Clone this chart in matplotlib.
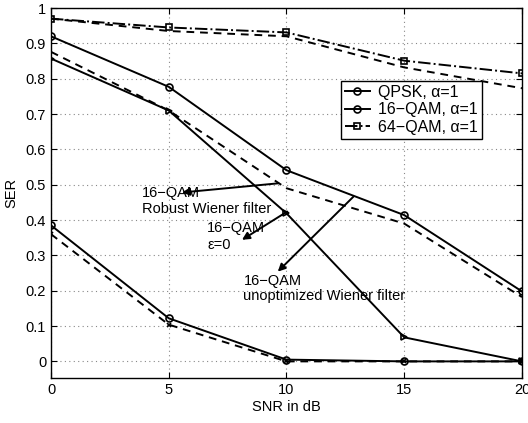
import matplotlib
matplotlib.use('Agg')
import matplotlib.pyplot as plt

plt.rcParams['font.family'] = ['Liberation Sans', 'DejaVu Sans']

snr = [0, 5, 10, 15, 20]

# SER curves
qpsk_robust = [0.385, 0.122, 0.005, 0.0, 0.0]
qpsk_unopt = [0.36, 0.104, 0.0, 0.0, 0.0]
qam16_robust = [0.92, 0.777, 0.541, 0.414, 0.198]
qam16_unopt = [0.876, 0.71, 0.49, 0.39, 0.182]
qam16_eps0 = [0.857, 0.71, 0.419, 0.068, 0.0]
qam64_robust = [0.97, 0.945, 0.931, 0.851, 0.815]
qam64_unopt = [0.97, 0.935, 0.92, 0.832, 0.773]

yticks = [0, 0.1, 0.2, 0.3, 0.4, 0.5, 0.6, 0.7, 0.8, 0.9, 1]
ytick_labels = ['0', '0.1', '0.2', '0.3', '0.4', '0.5', '0.6', '0.7', '0.8', '0.9', '1']

fig = plt.figure(figsize=(5.28, 4.23), dpi=100)
ax = fig.add_axes([0.0966, 0.1064, 0.892, 0.8746])

lw = 1.4
ax.plot(snr, qpsk_robust, '-', color='k', lw=lw, marker='o', ms=5, mfc='none', mew=1.2,
        label='QPSK, \u03b1=1')
ax.plot(snr, qam16_robust, '-', color='k', lw=lw, marker='o', ms=5, mfc='none', mew=1.2,
        label='16\u2212QAM, \u03b1=1')
ax.plot(snr, qam64_robust, '-.', color='k', lw=lw, marker='s', ms=4.5, mfc='none', mew=1.2,
        label='64\u2212QAM, \u03b1=1')

ax.plot(snr, qpsk_unopt, '--', color='k', lw=lw, marker='x', ms=3.5, mew=1.2, dashes=(4, 3))
ax.plot(snr, qam16_unopt, '--', color='k', lw=lw, dashes=(4, 3))
ax.plot(snr, qam16_eps0, '-', color='k', lw=lw, marker='>', ms=5, mfc='none', mew=1.2)
ax.plot(snr, qam64_unopt, '--', color='k', lw=lw, dashes=(4, 3))

ax.set_xlim(0, 20)
ax.set_ylim(-0.047, 1)
ax.set_xticks(snr)
ax.set_yticks(yticks)
ax.set_yticklabels(ytick_labels)
ax.tick_params(direction='in', top=True, right=True, labelsize=10.5, length=4)
ax.grid(True, linestyle=(0, (1, 3)), color='#888888', linewidth=0.8)
for s in ax.spines.values():
    s.set_linewidth(1.0)

ax.set_xlabel('SNR in dB', fontsize=10.5, labelpad=2)
ax.set_ylabel('SER', fontsize=10.5, labelpad=5)

# annotations
arrow = dict(arrowstyle='-|>', color='k', lw=1.4, mutation_scale=11, shrinkA=0, shrinkB=0)
ax.annotate('', xy=(5.56, 0.478), xytext=(9.66, 0.504), arrowprops=arrow)
ax.text(3.86, 0.454, '16\u2212QAM\nRobust Wiener filter', fontsize=10.5, va='center',
        linespacing=1.1)
ax.annotate('', xy=(8.11, 0.344), xytext=(10.03, 0.424), arrowprops=arrow)
ax.text(6.64, 0.353, '16\u2212QAM\n\u03b5=0', fontsize=10.5, va='center', linespacing=1.25)
ax.annotate('', xy=(9.63, 0.254), xytext=(12.84, 0.466), arrowprops=arrow)
ax.text(8.17, 0.207, '16\u2212QAM\nunoptimized Wiener filter', fontsize=10.5, va='center',
        linespacing=1.1)

leg = ax.legend(loc='upper right', bbox_to_anchor=(0.915, 0.803), fontsize=11.5,
                fancybox=False, edgecolor='k', framealpha=1, handlelength=1.6,
                handletextpad=0.5, borderpad=0.25, labelspacing=0.15, borderaxespad=0)
leg.get_frame().set_linewidth(1.0)

fig.savefig('out.png', dpi=100)
